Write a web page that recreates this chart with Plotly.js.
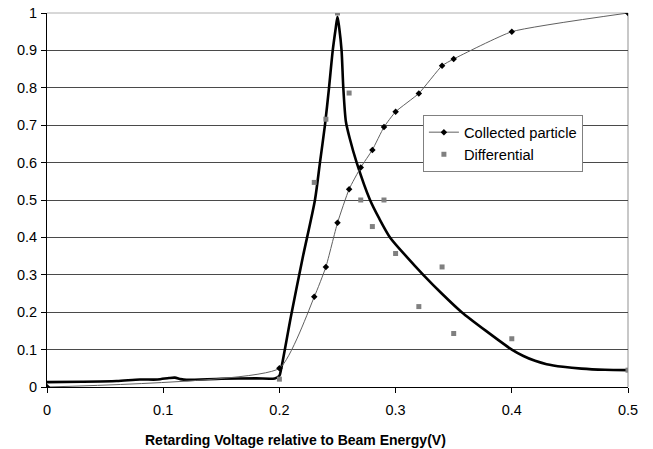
<!DOCTYPE html>
<html>
<head>
<meta charset="utf-8">
<script src="https://cdn.plot.ly/plotly-3.0.1.min.js"></script>
<style>html,body{margin:0;padding:0;background:#fff;}#chart{width:653px;height:449px;}</style>
</head>
<body>
<div id="chart"></div>
<script>
// Collected particle (black diamonds, thin smoothed line)
const collectedX = [0, 0.2, 0.23, 0.24, 0.25, 0.26, 0.27, 0.28, 0.29, 0.30, 0.32, 0.34, 0.35, 0.40, 0.50];
const collectedY = [0, 0.05, 0.241, 0.321, 0.439, 0.529, 0.587, 0.634, 0.695, 0.736, 0.785, 0.859, 0.877, 0.950, 1.0];

// Differential (grey squares)
const diffX = [0.2, 0.23, 0.24, 0.25, 0.26, 0.27, 0.28, 0.29, 0.30, 0.32, 0.34, 0.35, 0.40, 0.50];
const diffY = [0.021, 0.547, 0.716, 1.0, 0.786, 0.5, 0.429, 0.5, 0.357, 0.215, 0.321, 0.143, 0.129, 0.045];

// Fitted curve (thick black line, no legend entry)
const fitX = [0, 0.03, 0.06, 0.08, 0.095, 0.105, 0.11, 0.115, 0.12, 0.15, 0.18, 0.196, 0.2, 0.2015,
  0.21, 0.22, 0.2306, 0.2349, 0.2392, 0.2427, 0.2459, 0.2485, 0.25, 0.2515, 0.2535, 0.255, 0.2572,
  0.2605, 0.2665, 0.278, 0.286, 0.2952, 0.309, 0.3238, 0.3397, 0.3569, 0.3778, 0.4, 0.41,
  0.42, 0.43, 0.444, 0.46, 0.48, 0.5];
const fitY = [0.013, 0.014, 0.016, 0.020, 0.020, 0.024, 0.025, 0.021, 0.019, 0.022, 0.023, 0.023, 0.03, 0.048,
  0.19, 0.345, 0.5, 0.6, 0.7, 0.8, 0.9, 0.96, 0.99, 0.96, 0.9, 0.8, 0.71,
  0.665, 0.6, 0.5, 0.45, 0.4, 0.35, 0.3, 0.25, 0.2, 0.15, 0.1, 0.083,
  0.07, 0.061, 0.054, 0.049, 0.046, 0.045];

const xTicks = [0, 0.1, 0.2, 0.3, 0.4, 0.5];
const yTicks = [0, 0.1, 0.2, 0.3, 0.4, 0.5, 0.6, 0.7, 0.8, 0.9, 1];
const xTitle = 'Retarding Voltage relative to Beam Energy(V)';

const FONT = 'Liberation Sans, Arial, sans-serif';

const traces = [
  {
    x: fitX, y: fitY, mode: 'lines', type: 'scatter', showlegend: false,
    line: {color: '#000', width: 2.6, shape: 'spline', smoothing: 0.7},
    hoverinfo: 'skip'
  },
  {
    x: collectedX, y: collectedY, mode: 'lines+markers', type: 'scatter', name: 'Collected particle',
    line: {color: '#606060', width: 1, shape: 'spline', smoothing: 0.45},
    marker: {symbol: 'diamond', size: 5, color: '#000'}
  },
  {
    x: diffX, y: diffY, mode: 'markers', type: 'scatter', name: 'Differential',
    marker: {symbol: 'square', size: 5, color: '#808080'}
  }
];

const layout = {
  width: 653, height: 449,
  margin: {l: 47, r: 25, t: 13, b: 62, pad: 0},
  paper_bgcolor: '#fff', plot_bgcolor: '#fff',
  font: {family: FONT, size: 14.5, color: '#000'},
  showlegend: true,
  legend: {
    x: 0.647, y: 0.727, xanchor: 'left', yanchor: 'top',
    bgcolor: '#fff', bordercolor: '#808080', borderwidth: 1,
    font: {family: FONT, size: 14.7, color: '#000'},
    tracegroupgap: 0, itemwidth: 30
  },
  xaxis: {
    range: [0, 0.5], tickvals: xTicks, ticktext: xTicks.map(String),
    showgrid: false, zeroline: false,
    showline: true, linecolor: '#000', linewidth: 1,
    ticks: 'outside', ticklen: 5, tickcolor: '#000', tickwidth: 1,
    ticklabelstandoff: 5,
    tickfont: {family: FONT, size: 14.5, color: '#000'}
  },
  yaxis: {
    range: [0, 1], tickvals: yTicks, ticktext: yTicks.map(String),
    showgrid: true, gridcolor: '#4a4a4a', gridwidth: 1, zeroline: false,
    showline: true, linecolor: '#000', linewidth: 1,
    ticks: 'outside', ticklen: 5, tickcolor: '#000', tickwidth: 1,
    ticklabelstandoff: 1,
    tickfont: {family: FONT, size: 14.5, color: '#000'}
  },
  shapes: [
    {type: 'line', xref: 'paper', yref: 'paper', x0: 0, x1: 1, y0: 1, y1: 1,
     line: {color: '#b0b0b0', width: 1}, layer: 'between'},
    {type: 'line', xref: 'paper', yref: 'paper', x0: 1, x1: 1, y0: 0, y1: 1,
     line: {color: '#c8c8c8', width: 2}, layer: 'between'}
  ],
  annotations: [
    {text: '<b>' + xTitle + '</b>', xref: 'paper', yref: 'paper', x: 0.4269, y: -0.1417,
     xanchor: 'center', yanchor: 'middle', showarrow: false,
     font: {family: FONT, size: 14, color: '#000'}}
  ]
};

Plotly.newPlot('chart', traces, layout, {displayModeBar: false, staticPlot: true});
</script>
</body>
</html>
